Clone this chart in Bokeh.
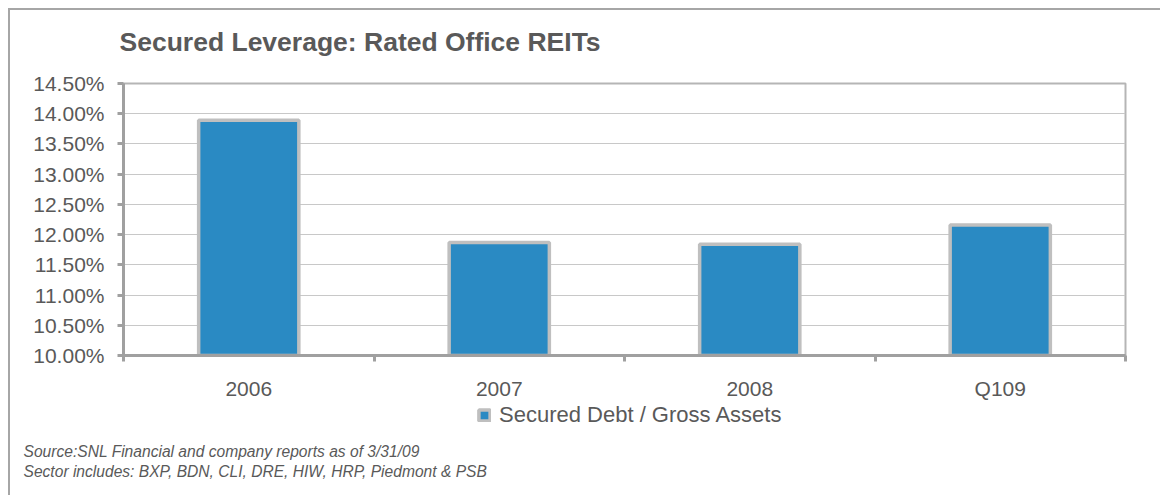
from bokeh.plotting import figure
from bokeh.layouts import column
from bokeh.models import (Range1d, FixedTicker, PrintfTickFormatter, Title,
                          Legend, LegendItem, ColumnDataSource)
from bokeh.embed import file_html
from bokeh.resources import INLINE

# ---- data ----
categories = ["2006", "2007", "2008", "Q109"]
secured_debt_pct = [13.89, 11.87, 11.84, 12.16]
y_ticks = [10.0, 10.5, 11.0, 11.5, 12.0, 12.5, 13.0, 13.5, 14.0, 14.5]
series_name = "Secured Debt / Gross Assets"
title_text = "Secured Leverage: Rated Office REITs"
notes = ["Source:SNL Financial and company reports as of 3/31/09",
         "Sector includes: BXP, BDN, CLI, DRE, HIW, HRP, Piedmont & PSB"]

FONT = "Liberation Sans"
TXT = "#595959"
AX = "#a0a0a0"
BAR_FILL = "#2A8AC3"
BAR_LINE = "#bfbfbf"
FRAME = "2px solid #a6a6a6"

W = 1150
H_HEAD = 60
H_MAIN = 333
H_FOOT = 92

xs = [i + 0.5 for i in range(len(categories))]
src = ColumnDataSource(dict(x=xs, top=secured_debt_pct, cat=categories))


def blank(height, bottom_border=0):
    f = figure(width=W, height=height, output_backend="svg", toolbar_location=None,
               x_range=Range1d(0, 1), y_range=Range1d(0, 1),
               x_axis_location=None, y_axis_location=None,
               min_border_left=113, min_border_right=35, min_border_top=0,
               min_border_bottom=bottom_border)
    f.grid.visible = False
    f.outline_line_color = None
    f.background_fill_color = "white"
    f.border_fill_color = "white"
    return f


# ---------------- header (title) ----------------
h = blank(H_HEAD)
h.add_layout(Title(text=title_text, align="left", offset=-4, standoff=28,
                   text_font=FONT, text_font_size="26.5px", text_font_style="bold",
                   text_color=TXT), "above")

# ---------------- main chart ----------------
p = figure(width=W, height=H_MAIN, output_backend="svg", toolbar_location=None,
           x_range=Range1d(0, len(categories)), y_range=Range1d(y_ticks[0], y_ticks[-1]),
           min_border_left=113, min_border_right=35, min_border_top=13, min_border_bottom=48)
p.background_fill_color = "white"
p.border_fill_color = "white"
p.outline_line_color = "#b5b5b5"
p.outline_line_width = 2

r = p.vbar(x="x", top="top", bottom=y_ticks[0], width=0.4, source=src,
           fill_color=BAR_FILL, line_color=BAR_LINE, line_width=3.5)

ya = p.yaxis[0]
ya.ticker = FixedTicker(ticks=y_ticks)
ya.formatter = PrintfTickFormatter(format="%.2f%%")
ya.axis_line_color = AX
ya.axis_line_width = 3
ya.major_tick_line_color = AX
ya.major_tick_line_width = 3
ya.major_tick_out = 6
ya.major_tick_in = 0
ya.minor_tick_line_color = None
ya.major_label_standoff = 13
ya.major_label_text_font = FONT
ya.major_label_text_font_size = "21px"
ya.major_label_text_color = TXT

xa = p.xaxis[0]
xa.ticker = FixedTicker(ticks=xs, minor_ticks=list(range(len(categories) + 1)))
xa.major_label_overrides = {x: c for x, c in zip(xs, categories)}
xa.axis_line_color = AX
xa.axis_line_width = 3
xa.major_tick_line_color = None
xa.minor_tick_line_color = AX
xa.minor_tick_line_width = 3
xa.minor_tick_out = 6
xa.minor_tick_in = 0
xa.major_label_standoff = 15
xa.major_label_text_font = FONT
xa.major_label_text_font_size = "21px"
xa.major_label_text_color = TXT

p.xgrid.grid_line_color = None
p.ygrid.grid_line_color = "#c8c8c8"
p.ygrid.grid_line_width = 1
p.ygrid.ticker = FixedTicker(ticks=y_ticks)

# ---------------- legend + footnotes ----------------
f = blank(H_FOOT, bottom_border=55)
f.x_range = Range1d(0, len(categories))
f.y_range = Range1d(0, 1)
# same series, hidden here, so that the legend draws its swatch
sw = f.vbar(x="x", top="top", bottom=y_ticks[0], width=0.4, source=src,
            fill_color=BAR_FILL, line_color=BAR_LINE, line_width=3.5, visible=False)
legend = Legend(items=[LegendItem(label=series_name, renderers=[sw])],
                location=(354, 12), orientation="horizontal",
                glyph_width=14, glyph_height=14, label_standoff=8,
                padding=0, margin=0, border_line_color=None,
                background_fill_color=None,
                label_text_font=FONT, label_text_font_size="22px",
                label_text_color=TXT)
f.add_layout(legend)

for t, s in zip(notes, [0, 3]):
    f.add_layout(Title(text=t, align="left", offset=-100, standoff=s,
                       text_font=FONT, text_font_size="15.6px",
                       text_font_style="italic", text_color=TXT), "below")

lay = column(h, p, f, spacing=0,
             styles={"margin-left": "8px", "margin-top": "8px",
                     "border-left": FRAME, "border-top": FRAME})

open("out.html", "w").write(file_html(lay, INLINE))
